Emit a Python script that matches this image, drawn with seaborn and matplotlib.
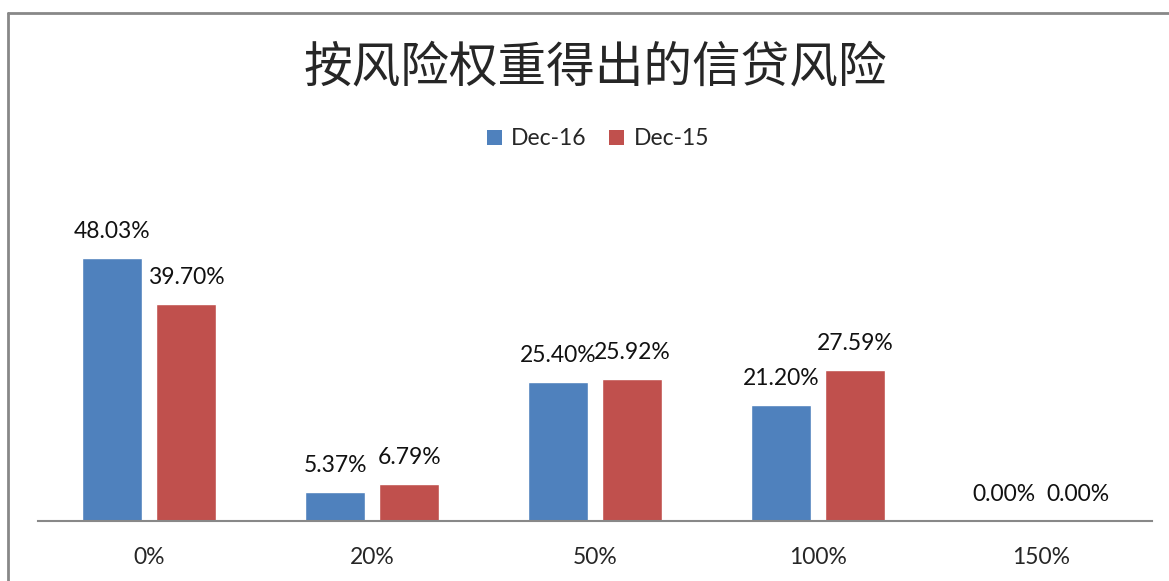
import pandas as pd
import seaborn as sns
import matplotlib.pyplot as plt
from matplotlib.lines import Line2D
from matplotlib.patches import Patch

categories = ["0%", "20%", "50%", "100%", "150%"]
series = ["Dec-16", "Dec-15"]
dec16 = [48.03, 5.37, 25.40, 21.20, 0.00]
dec15 = [39.70, 6.79, 25.92, 27.59, 0.00]
colors = ["#4F81BD", "#C0504D"]

df = pd.DataFrame({
    "weight": categories * 2,
    "series": [series[0]] * len(categories) + [series[1]] * len(categories),
    "value": dec16 + dec15,
})

sns.set_style("white")
plt.rcParams['font.family'] = ['Lato', 'Noto Sans CJK SC', 'DejaVu Sans']

fig = plt.figure(figsize=(11.69, 5.81), dpi=100)
ax = fig.add_axes([0.0325, 0.1033, 0.953, 0.5656])

sns.barplot(data=df, x="weight", y="value", hue="series", order=categories,
            hue_order=series, palette=colors, width=0.664, gap=0.19,
            saturation=1, ax=ax, legend=False)

ax.set_ylim(0, 60)
ax.set_xlim(-0.5, len(categories) - 0.5)
for s in ["top", "right", "left"]:
    ax.spines[s].set_visible(False)
ax.spines["bottom"].set_color("#888888")
ax.spines["bottom"].set_linewidth(1.5)
ax.set_yticks([])
ax.tick_params(axis="x", length=0, pad=19, labelsize=16.5)
ax.set_xlabel("")
ax.set_ylabel("")

# data labels
for cont in ax.containers:
    for bar in cont:
        h = bar.get_height()
        ax.annotate(f"{h:.2f}%", (bar.get_x() + bar.get_width() / 2, h),
                    xytext=(0, 19), textcoords="offset points",
                    ha="center", va="center", fontsize=16.5, color="#111111")

fig.text(0.509, 0.883, "按风险权重得出的信贷风险", ha="center", va="center",
         fontsize=35, fontweight="medium",
         family=['Noto Sans CJK SC', 'DejaVu Sans'])

handles = [Patch(facecolor=c, edgecolor="none") for c in colors]
fig.legend(handles, series, loc="center", bbox_to_anchor=(0.5115, 0.7608),
           ncol=2, frameon=False, fontsize=16.5, handlelength=0.65,
           handleheight=0.65, handletextpad=0.4, columnspacing=1.0)

# outer chart frame (cut at right/bottom)
fig.add_artist(Line2D([8 / 1169, 8 / 1169], [0, 1 - 13 / 581],
                      transform=fig.transFigure, color="#888888", lw=2))
fig.add_artist(Line2D([8 / 1169, 1], [1 - 13 / 581, 1 - 13 / 581],
                      transform=fig.transFigure, color="#888888", lw=2))

fig.savefig("out.png", dpi=100)
